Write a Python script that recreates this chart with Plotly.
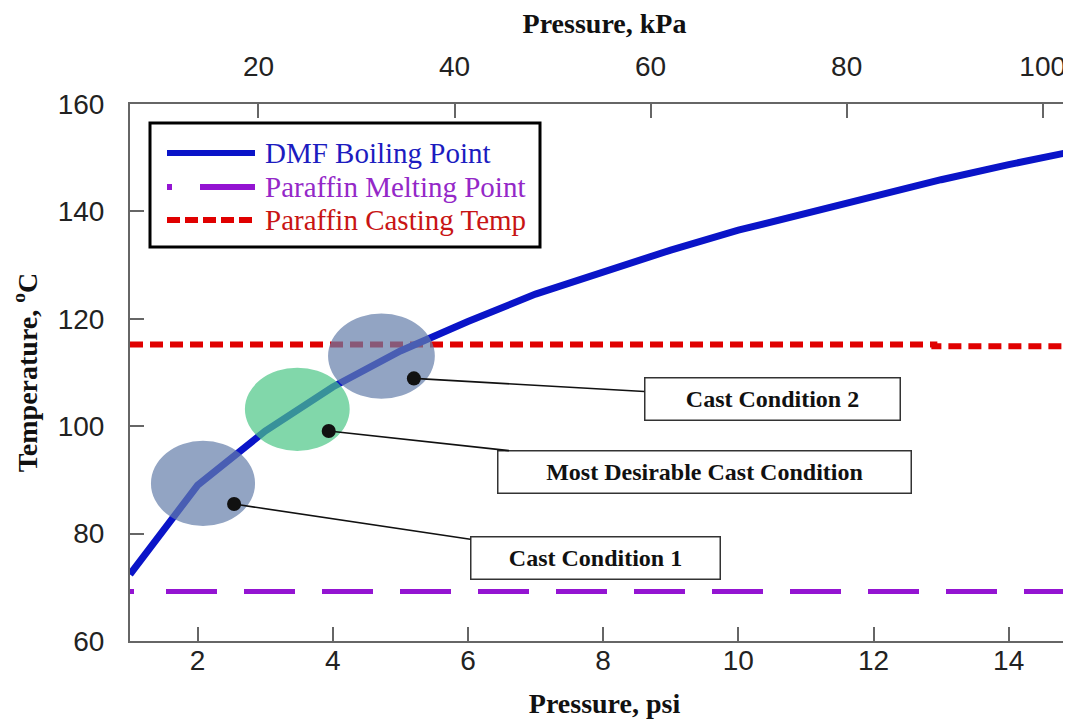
import plotly.graph_objects as go

# ---------------- data ----------------
dmf_psi = [1, 2, 3, 4, 5, 6, 7, 8, 9, 10, 11, 12, 13, 14, 15]
dmf_temp = [72.4, 89.0, 99.1, 107.3, 114.0, 119.5, 124.6, 128.8, 132.8, 136.5,
            139.7, 142.8, 145.9, 148.7, 151.3]

melt_psi = [1, 15]
melt_temp = [69.2, 69.2]

cast_psi = [1, 12.9, 12.9, 15]
cast_temp = [115.2, 115.2, 114.9, 114.9]

series_names = ["DMF Boiling Point", "Paraffin Melting Point", "Paraffin Casting Temp"]
series_colors = ["#0a14c8", "#9414d2", "#e00000"]
text_colors = ["#1c1cc0", "#9428c8", "#c81414"]

region_labels = ["Cast Condition 1", "Most Desirable Cast Condition", "Cast Condition 2"]
region_psi_lo = [1.31, 2.70, 3.93]
region_psi_hi = [2.85, 4.25, 5.51]
region_temp_lo = [81.4, 95.4, 105.1]
region_temp_hi = [97.3, 110.9, 121.0]
region_colors = ["rgb(100,125,170)", "rgb(76,198,134)", "rgb(100,125,170)"]
point_psi = [2.54, 3.94, 5.20]
point_temp = [85.5, 99.1, 108.9]
label_psi = [7.88, 9.50, 10.50]
label_temp = [75.5, 91.5, 105.1]
label_box_w = [238, 402, 244]

psi_ticks = [2, 4, 6, 8, 10, 12, 14]
kpa_ticks = [20, 40, 60, 80, 100]
temp_ticks = [60, 80, 100, 120, 140, 160]
KPA_PER_PSI = 6.895
psi_range = [1, 15.04]
temp_range = [60, 160]

# ---------------- layout geometry ----------------
# the page body adds an 8px offset; margins are chosen so that the plot
# area lands at x 130..(right edge), y 104..641 in the screenshot
W, H = 1071, 721
OFF = 8
ML, MR, MT, MB = 122, 0, 96, 88
PW, PH = W - ML - MR, H - MT - MB


def px(x):
    return (x - OFF - ML) / PW


def py(y):
    return (H - MB - (y - OFF)) / PH


SERIF = "Liberation Serif, Times New Roman, serif"
SANS = "Liberation Sans, Arial, sans-serif"
AXC = "#666666"

# dot, then regular long dashes (the dot appears only at the start)
MELT_DASH = "4px,32px," + ",".join(["51px,27px"] * 13)

fig = go.Figure()

fig.add_trace(go.Scatter(x=melt_psi, y=melt_temp, mode="lines", name=series_names[1],
                         line=dict(color=series_colors[1], width=5, dash=MELT_DASH),
                         showlegend=False))
fig.add_trace(go.Scatter(x=cast_psi, y=cast_temp, mode="lines", name=series_names[2],
                         line=dict(color=series_colors[2], width=6, dash="13px,7px"),
                         showlegend=False))
fig.add_trace(go.Scatter(x=dmf_psi, y=dmf_temp, mode="lines", name=series_names[0],
                         line=dict(color=series_colors[0], width=7),
                         showlegend=False))
# same curve on the kPa axis (invisible) so the top axis is drawn
fig.add_trace(go.Scatter(x=[p * KPA_PER_PSI for p in dmf_psi], y=dmf_temp, mode="lines",
                         xaxis="x2", yaxis="y", opacity=0, hoverinfo="skip",
                         line=dict(width=0), showlegend=False))

shapes = []
for i in range(3):
    shapes.append(dict(type="circle", xref="x", yref="y",
                       x0=region_psi_lo[i], x1=region_psi_hi[i],
                       y0=region_temp_lo[i], y1=region_temp_hi[i],
                       fillcolor=region_colors[i], opacity=0.7,
                       line=dict(width=0), layer="above"))

# custom legend
shapes.append(dict(type="rect", xref="paper", yref="paper",
                   x0=px(150), x1=px(540), y0=py(247), y1=py(123),
                   line=dict(color="black", width=3), fillcolor="white", layer="above"))
leg_y = [153, 187, 220]
leg_dash = ["solid", "5px,28px,55px,0px", "13px,5px"]
for i in range(3):
    shapes.append(dict(type="line", xref="paper", yref="paper",
                       x0=px(167), x1=px(255), y0=py(leg_y[i]), y1=py(leg_y[i]),
                       line=dict(color=series_colors[i], width=6, dash=leg_dash[i]),
                       layer="above"))

annotations = []
for i in range(3):
    annotations.append(dict(xref="paper", yref="paper", x=px(263), y=py(leg_y[i]),
                            xanchor="left", yanchor="middle", showarrow=False,
                            text=series_names[i],
                            font=dict(family=SERIF, size=29, color=text_colors[i])))

for i in range(3):
    annotations.append(dict(x=point_psi[i], y=point_temp[i], xref="x", yref="y",
                            ax=label_psi[i], ay=label_temp[i], axref="x", ayref="y",
                            text="<b>" + region_labels[i] + "</b>",
                            showarrow=True, arrowhead=6, arrowsize=2.2, arrowwidth=1.6,
                            arrowcolor="#111111",
                            bordercolor="#333333", borderwidth=1.5, borderpad=5,
                            bgcolor="white", width=label_box_w[i], height=31,
                            font=dict(family=SERIF, size=24, color="#111111")))

axis_common = dict(showgrid=False, zeroline=False, showline=True, linecolor=AXC,
                   linewidth=2, ticks="inside", ticklen=14, tickwidth=1.5, tickcolor=AXC,
                   automargin=False,
                   tickfont=dict(family=SANS, size=28, color="#222222"))

fig.update_layout(
    width=W, height=H, autosize=False,
    margin=dict(l=ML, r=MR, t=MT, b=MB, pad=0),
    paper_bgcolor="white", plot_bgcolor="white",
    showlegend=False,
    xaxis=dict(range=psi_range, tickvals=psi_ticks, ticklabelstandoff=-7,
               title=dict(text="<b>Pressure, psi</b>", standoff=19,
                          font=dict(family=SERIF, size=28, color="#111111")),
               **axis_common),
    xaxis2=dict(range=[psi_range[0] * KPA_PER_PSI, psi_range[1] * KPA_PER_PSI],
                tickvals=kpa_ticks, overlaying="x", side="top", anchor="y",
                ticklabelstandoff=15,
                title=dict(text="<b>Pressure, kPa</b>", standoff=18,
                           font=dict(family=SERIF, size=28, color="#111111")),
                **axis_common),
    yaxis=dict(range=temp_range, tickvals=temp_ticks, ticklabelstandoff=18,
               title=dict(text="<b>Temperature, <sup>o</sup>C</b>", standoff=14,
                          font=dict(family=SERIF, size=28, color="#111111")),
               **axis_common),
    shapes=shapes,
    annotations=annotations,
)

fig.write_html("out.html")
